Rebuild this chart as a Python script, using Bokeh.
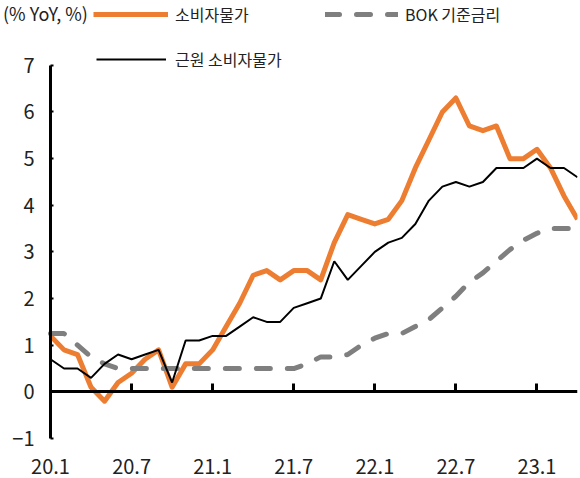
from bokeh.plotting import figure
from bokeh.models import Range1d, FixedTicker, LinearAxis, Legend, LegendItem
from bokeh.embed import file_html
from bokeh.resources import INLINE

# monthly, 2020.1 ~ 2023.4
months = [f"{y}.{m}" for y in (20, 21, 22, 23) for m in range(1, 13)][:40]
tick_labels = ["20.1", "20.7", "21.1", "21.7", "22.1", "22.7", "23.1"]

# 소비자물가 (% YoY)
cpi = [1.2, 0.9, 0.8, 0.1, -0.2, 0.2, 0.4, 0.7, 0.9, 0.1, 0.6, 0.6,
       0.9, 1.4, 1.9, 2.5, 2.6, 2.4, 2.6, 2.6, 2.4, 3.2, 3.8, 3.7,
       3.6, 3.7, 4.1, 4.8, 5.4, 6.0, 6.3, 5.7, 5.6, 5.7, 5.0, 5.0,
       5.2, 4.8, 4.2, 3.7]
# 근원 소비자물가 (% YoY)
core = [0.7, 0.5, 0.5, 0.3, 0.6, 0.8, 0.7, 0.8, 0.9, 0.2, 1.1, 1.1,
        1.2, 1.2, 1.4, 1.6, 1.5, 1.5, 1.8, 1.9, 2.0, 2.8, 2.4, 2.7,
        3.0, 3.2, 3.3, 3.6, 4.1, 4.4, 4.5, 4.4, 4.5, 4.8, 4.8, 4.8,
        5.0, 4.8, 4.8, 4.6]
# BOK 기준금리 (%)
bok = [1.25, 1.25, 1.0, 0.75, 0.6, 0.5, 0.5, 0.5, 0.5, 0.5, 0.5, 0.5,
       0.5, 0.5, 0.5, 0.5, 0.5, 0.5, 0.5, 0.6, 0.75, 0.75, 0.8, 1.0,
       1.15, 1.25, 1.25, 1.4, 1.55, 1.8, 2.05, 2.35, 2.55, 2.8, 3.05, 3.25,
       3.4, 3.5, 3.5, 3.5]

x = list(range(len(months)))
tick_idx = [months.index(t) for t in tick_labels]

KR = "Noto Sans CJK KR"
ORANGE = "#ED7D31"
GREY = "#7F7F7F"
TXT = "#222222"

# the frame fills the canvas (0..577 x 0..452) so the notes up top are not clipped;
# the axes are pinned at x=0 / y=0 inside it
p = figure(width=580, height=478, x_range=Range1d(-3.7, len(months) - 1),
           y_range=Range1d(-1.3, 8.39), output_backend="svg", toolbar_location=None,
           min_border_left=0, min_border_right=3, min_border_top=0, min_border_bottom=26)
p.outline_line_color = None
p.grid.visible = False

# x axis line + inward ticks at 0
p.xaxis.fixed_location = 0
p.xaxis.bounds = (0, len(months) - 1)
p.xaxis.ticker = FixedTicker(ticks=tick_idx)
p.xaxis.axis_line_width = 3
p.xaxis.major_tick_in = 8
p.xaxis.major_tick_out = 0
p.xaxis.major_tick_line_width = 3
p.xaxis.minor_tick_line_color = None
p.xaxis.major_label_text_color = None

# month labels at the bottom
xlab = LinearAxis(ticker=FixedTicker(ticks=tick_idx),
                  major_label_overrides={i: t for i, t in zip(tick_idx, tick_labels)})
xlab.axis_line_color = None
xlab.major_tick_line_color = None
xlab.minor_tick_line_color = None
xlab.major_label_standoff = 0
xlab.major_label_text_font = KR
xlab.major_label_text_font_size = "20px"
xlab.major_label_text_color = TXT
p.add_layout(xlab, "below")

p.yaxis.fixed_location = 0
p.yaxis.ticker = FixedTicker(ticks=list(range(-1, 8)))
p.yaxis.bounds = (-1, 7)
p.yaxis.axis_line_width = 3
p.yaxis.major_tick_in = 3
p.yaxis.major_tick_out = 0
p.yaxis.major_tick_line_width = 2
p.yaxis.minor_tick_line_color = None
p.yaxis.major_label_standoff = 16
p.yaxis.major_label_text_font = KR
p.yaxis.major_label_text_font_size = "20px"
p.yaxis.major_label_text_color = TXT

r_cpi = p.line(x, cpi, line_color=ORANGE, line_width=5, line_join="round")
r_bok = p.line(x, bok, line_color=GREY, line_width=5, line_dash="14 17", line_cap="round")
r_core = p.line(x, core, line_color="black", line_width=2)


def make_legend(label, r, loc, gw, standoff, size="16px"):
    return Legend(items=[LegendItem(label=label, renderers=[r])], location=loc,
                  orientation="horizontal", glyph_width=gw, glyph_height=20,
                  label_height=20, label_standoff=standoff, padding=0, margin=0,
                  spacing=0, background_fill_alpha=0, border_line_alpha=0,
                  label_text_font=KR, label_text_font_size=size,
                  label_text_color=TXT)


# unit note, drawn as a legend entry without a glyph
p.add_layout(make_legend("(% YoY, %)", r_core, (3, 426), 0, 0, "18px"), "center")
p.add_layout(make_legend("소비자물가", r_cpi, (93, 426), 75, 7), "center")
p.add_layout(make_legend("BOK 기준금리", r_bok, (325, 426), 73, 7), "center")
p.add_layout(make_legend("근원 소비자물가", r_core, (96, 381), 70, 9), "center")

open("out.html", "w").write(file_html(p, INLINE))
